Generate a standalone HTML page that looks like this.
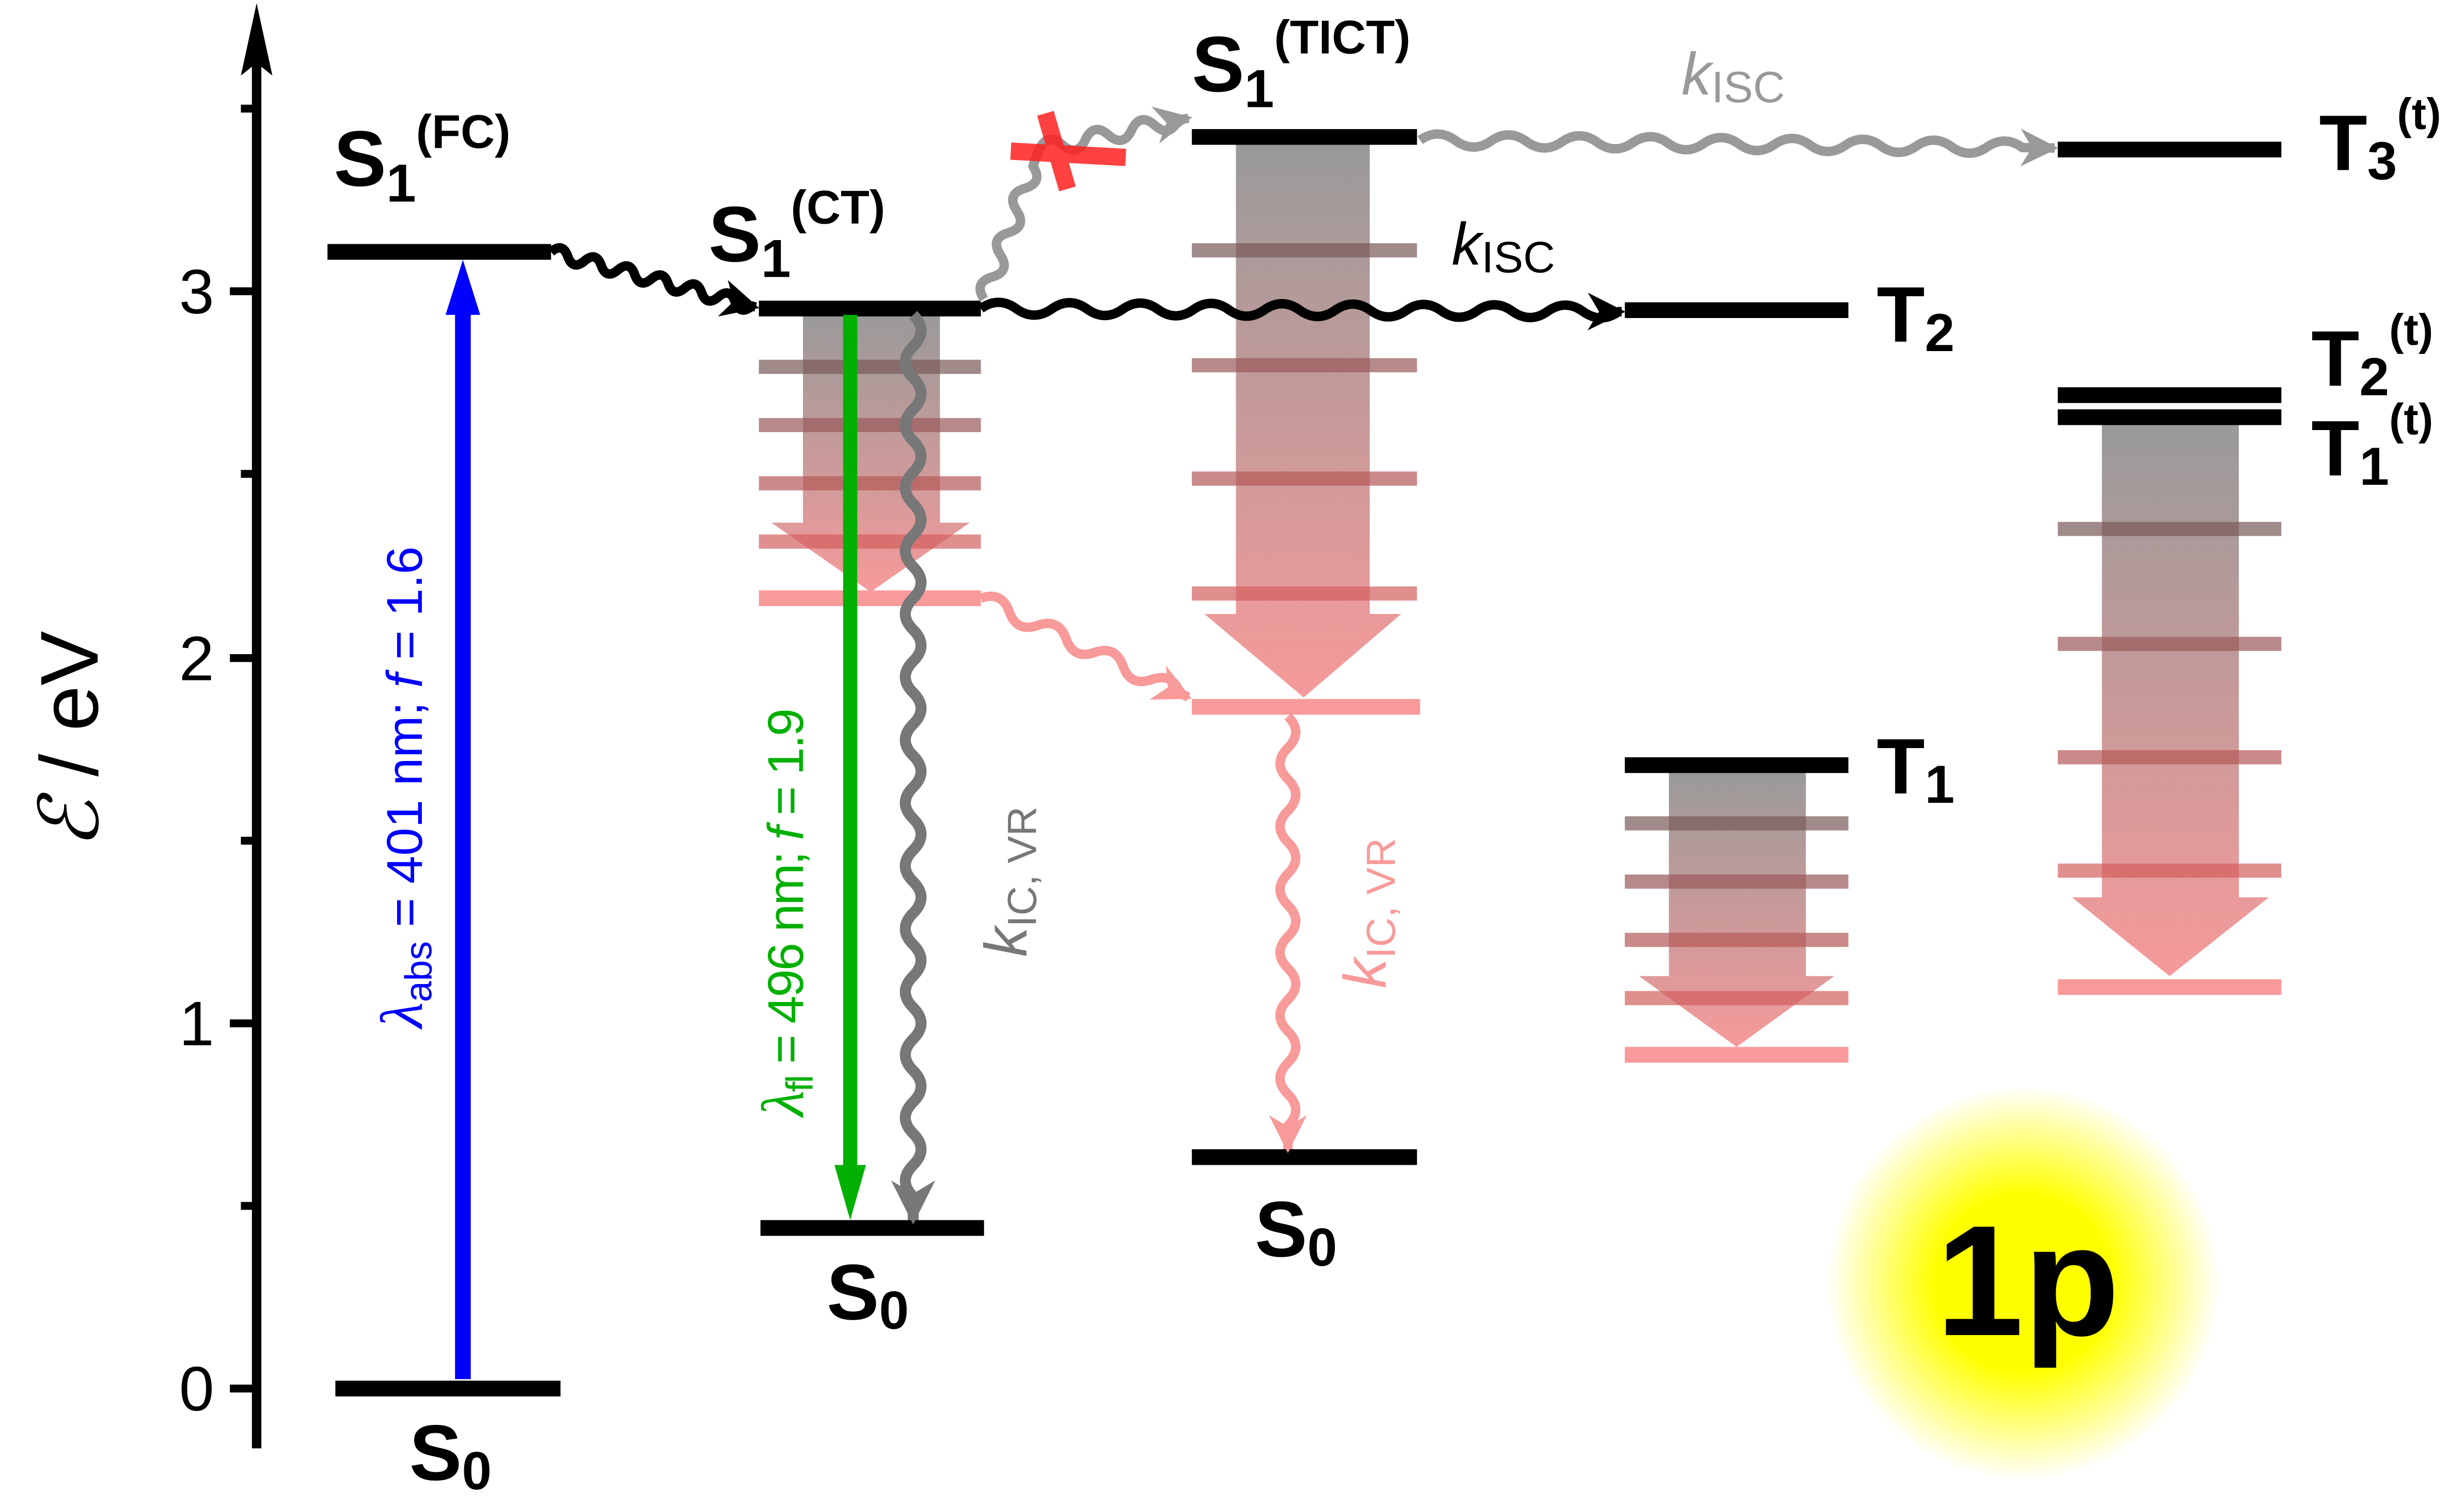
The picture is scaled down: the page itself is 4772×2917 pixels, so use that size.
<!DOCTYPE html>
<html><head><meta charset="utf-8">
<style>
html,body{margin:0;padding:0;background:#fff;}
svg{display:block;}
text{font-family:"Liberation Sans",sans-serif;}
</style></head>
<body>
<svg width="4772" height="2917" viewBox="0 0 1565 956.6" preserveAspectRatio="none" xmlns="http://www.w3.org/2000/svg">
<defs>
<linearGradient id="g1" x1="0" y1="0" x2="0" y2="1">
<stop offset="0" stop-color="#808080" stop-opacity="0.8"/>
<stop offset="1" stop-color="#f48080" stop-opacity="0.8"/>
</linearGradient>
<radialGradient id="glow">
<stop offset="0" stop-color="#ffff00"/>
<stop offset="0.45" stop-color="#ffff00"/>
<stop offset="1" stop-color="#ffff00" stop-opacity="0"/>
</radialGradient>
<marker id="mk" viewBox="0 0 10 10" refX="9" refY="5" markerWidth="4" markerHeight="4" orient="auto" markerUnits="strokeWidth"><path d="M0,0 L10,5 L0,10 L3,5z" fill="#000"/></marker>
<marker id="mg" viewBox="0 0 10 10" refX="9" refY="5" markerWidth="4" markerHeight="4" orient="auto" markerUnits="strokeWidth"><path d="M0,0 L10,5 L0,10 L3,5z" fill="#999"/></marker>
<marker id="mgd" viewBox="0 0 10 10" refX="9" refY="5" markerWidth="4" markerHeight="4" orient="auto" markerUnits="strokeWidth"><path d="M0,0 L10,5 L0,10 L3,5z" fill="#777"/></marker>
<marker id="mp" viewBox="0 0 10 10" refX="9" refY="5" markerWidth="4" markerHeight="4" orient="auto" markerUnits="strokeWidth"><path d="M0,0 L10,5 L0,10 L3,5z" fill="#f89a9a"/></marker>
</defs>

<circle cx="1285" cy="815" r="125" fill="url(#glow)"/>
<text x="1288" y="848" font-size="100" font-weight="bold" text-anchor="middle">1p</text>

<line x1="163" y1="30" x2="163" y2="920" stroke="#000" stroke-width="6"/>
<path d="M163,2 L153,48 L163,40 L173,48z" fill="#000"/>
<g stroke="#000" stroke-width="5">
<line x1="146" y1="185" x2="163" y2="185"/><line x1="146" y1="418" x2="163" y2="418"/>
<line x1="146" y1="650" x2="163" y2="650"/><line x1="146" y1="882" x2="163" y2="882"/>
<line x1="153" y1="301" x2="163" y2="301"/><line x1="153" y1="534" x2="163" y2="534"/>
<line x1="153" y1="766" x2="163" y2="766"/><line x1="153" y1="69" x2="163" y2="69"/>
</g>
<g font-size="40" text-anchor="end">
<text x="136" y="199">3</text><text x="136" y="432">2</text><text x="136" y="664">1</text><text x="136" y="896">0</text>
</g>
<text transform="translate(62,470) rotate(-90)" font-size="52" text-anchor="middle"><tspan font-family="Liberation Serif" font-style="italic">ℰ</tspan> / eV</text>

<g fill="url(#g1)">
<path d="M510,200 H597 V332 H616 L553,376 L490,332 H510z"/>
<path d="M785,92 H870 V390 H890 L828,443 L765,390 H785z"/>
<path d="M1060,490 H1147 V620 H1165 L1103,665 L1041,620 H1060z"/>
<path d="M1335,270 H1422 V570 H1441 L1378,620 L1316,570 H1335z"/>
</g>
<g stroke-width="9" opacity="0.7">
<line x1="482" x2="623" y1="233" y2="233" stroke="#7a5a5a"/>
<line x1="482" x2="623" y1="270" y2="270" stroke="#9a5a5a"/>
<line x1="482" x2="623" y1="307" y2="307" stroke="#b55a5a"/>
<line x1="482" x2="623" y1="344" y2="344" stroke="#d46060"/>
<line x1="757" x2="900" y1="159" y2="159" stroke="#7a5a5a"/>
<line x1="757" x2="900" y1="232" y2="232" stroke="#9a5a5a"/>
<line x1="757" x2="900" y1="304" y2="304" stroke="#b55a5a"/>
<line x1="757" x2="900" y1="377" y2="377" stroke="#d46060"/>
<line x1="1032" x2="1174" y1="523" y2="523" stroke="#7a5a5a"/>
<line x1="1032" x2="1174" y1="560" y2="560" stroke="#9a5a5a"/>
<line x1="1032" x2="1174" y1="597" y2="597" stroke="#b55a5a"/>
<line x1="1032" x2="1174" y1="634" y2="634" stroke="#d46060"/>
<line x1="1307" x2="1449" y1="336" y2="336" stroke="#7a5a5a"/>
<line x1="1307" x2="1449" y1="409" y2="409" stroke="#9a5a5a"/>
<line x1="1307" x2="1449" y1="481" y2="481" stroke="#b55a5a"/>
<line x1="1307" x2="1449" y1="553" y2="553" stroke="#d46060"/>
</g>
<g stroke="#f89a9a" stroke-width="10">
<line x1="482" x2="623" y1="380" y2="380"/>
<line x1="757" x2="902" y1="449" y2="449"/>
<line x1="1032" x2="1174" y1="670" y2="670"/>
<line x1="1307" x2="1449" y1="627" y2="627"/>
</g>

<g stroke="#000" stroke-width="10">
<line x1="208" x2="350" y1="160" y2="160"/>
<line x1="213" x2="356" y1="882" y2="882"/>
<line x1="482" x2="623" y1="196" y2="196"/>
<line x1="483" x2="625" y1="780" y2="780"/>
<line x1="757" x2="900" y1="87" y2="87"/>
<line x1="757" x2="900" y1="735" y2="735"/>
<line x1="1032" x2="1174" y1="197" y2="197"/>
<line x1="1032" x2="1174" y1="486" y2="486"/>
<line x1="1307" x2="1449" y1="95" y2="95"/>
<line x1="1307" x2="1449" y1="251" y2="251"/>
<line x1="1307" x2="1449" y1="265" y2="265"/>
</g>

<line x1="294" y1="876" x2="294" y2="195" stroke="#0000ff" stroke-width="10"/>
<path d="M294,165 L283,200 L305,200z" fill="#0000ff"/>
<line x1="540" y1="200" x2="540" y2="745" stroke="#00b000" stroke-width="9"/>
<path d="M540,775 L530,740 L550,740z" fill="#00b000"/>

<g fill="none" stroke-linejoin="round">
<g transform="translate(350,160) rotate(15.1)"><path stroke="#000" stroke-width="6" marker-end="url(#mk)" d="M0,0 q5.5,-8 11,0 t11,0 t11,0 t11,0 t11,0 t11,0 t11,0 t11,0 t11,0 t11,0 t11,0 t11,0 L134.6,0"/></g>
<g transform="translate(623,196) rotate(0.28)"><path stroke="#000" stroke-width="6" marker-end="url(#mk)" d="M0,0 q11.25,-8 22.5,0 t22.5,0 t22.5,0 t22.5,0 t22.5,0 t22.5,0 t22.5,0 t22.5,0 t22.5,0 t22.5,0 t22.5,0 t22.5,0 t22.5,0 t22.5,0 t22.5,0 t22.5,0 t22.5,0 t22.5,0 L407,0"/></g>
<g transform="translate(902,89) rotate(0.71)"><path stroke="#999" stroke-width="6" marker-end="url(#mg)" d="M0,0 q11.25,-8 22.5,0 t22.5,0 t22.5,0 t22.5,0 t22.5,0 t22.5,0 t22.5,0 t22.5,0 t22.5,0 t22.5,0 t22.5,0 t22.5,0 t22.5,0 t22.5,0 t22.5,0 t22.5,0 t22.5,0 L403,0"/></g>
<g transform="translate(580,200) rotate(90)"><path stroke="#777" stroke-width="7" marker-end="url(#mgd)" d="M0,0 q10,-10 20,0 t20,0 t20,0 t20,0 t20,0 t20,0 t20,0 t20,0 t20,0 t20,0 t20,0 t20,0 t20,0 t20,0 t20,0 t20,0 t20,0 t20,0 t20,0 t20,0 t20,0 t20,0 t20,0 t20,0 t20,0 t20,0 t20,0 t20,0 L575,0"/></g>
<g transform="translate(623,380) rotate(25.5)"><path stroke="#f89a9a" stroke-width="6" marker-end="url(#mp)" d="M0,0 q10,-10 20,0 t20,0 t20,0 t20,0 t20,0 t20,0 t20,0 L146,0"/></g>
<g transform="translate(818,455) rotate(90)"><path stroke="#f89a9a" stroke-width="6" marker-end="url(#mp)" d="M0,0 q10,-10 20,0 t20,0 t20,0 t20,0 t20,0 t20,0 t20,0 t20,0 t20,0 t20,0 t20,0 t20,0 t20,0 L275,0"/></g>
<g transform="translate(625,190) rotate(-69.8)"><path stroke="#999" stroke-width="6" d="M0,0 q7.5,-10 15,0 t15,0 t15,0 t15,0 t15,0 t15,0 L101,0"/></g>
<g transform="translate(660,95) rotate(-11.9)"><path stroke="#999" stroke-width="6" marker-end="url(#mg)" d="M0,0 q7.5,-10 15,0 t15,0 t15,0 t15,0 t15,0 t15,0 L97,0"/></g>
</g>

<g stroke="#ff2020" stroke-width="11" opacity="0.85">
<line x1="642" y1="96" x2="715" y2="100"/>
<line x1="664" y1="72" x2="678" y2="120"/>
</g>

<g font-weight="bold" font-size="50">
<text x="212" y="118">S<tspan font-size="34" dy="10">1</tspan><tspan font-size="30" dy="-34">(FC)</tspan></text>
<text x="450" y="166">S<tspan font-size="34" dy="10">1</tspan><tspan font-size="30" dy="-34">(CT)</tspan></text>
<text x="757" y="58">S<tspan font-size="34" dy="10">1</tspan><tspan font-size="30" dy="-34">(TICT)</tspan></text>
<text x="260" y="940">S<tspan font-size="34" dy="6">0</tspan></text>
<text x="525" y="838">S<tspan font-size="34" dy="6">0</tspan></text>
<text x="797" y="798">S<tspan font-size="34" dy="6">0</tspan></text>
<text x="1192" y="217">T<tspan font-size="34" dy="6">2</tspan></text>
<text x="1192" y="504">T<tspan font-size="34" dy="6">1</tspan></text>
<text x="1473" y="108">T<tspan font-size="34" dy="6">3</tspan><tspan font-size="28" dy="-32">(t)</tspan></text>
<text x="1468" y="245">T<tspan font-size="34" dy="6">2</tspan><tspan font-size="28" dy="-32">(t)</tspan></text>
<text x="1468" y="302">T<tspan font-size="34" dy="6">1</tspan><tspan font-size="28" dy="-32">(t)</tspan></text>
</g>
<text x="922" y="168" font-size="38" font-style="italic">k<tspan font-style="normal" font-size="28" dy="5">ISC</tspan></text>
<text x="1068" y="60" font-size="38" font-style="italic" fill="#999">k<tspan font-style="normal" font-size="28" dy="5">ISC</tspan></text>
<text transform="translate(268,500) rotate(-90)" font-size="32" fill="#0000ff" text-anchor="middle"><tspan font-family="Liberation Serif" font-style="italic" font-size="38">λ</tspan><tspan font-size="24" dy="6">abs</tspan><tspan dy="-6"> = 401 nm; </tspan><tspan font-style="italic">f</tspan> = 1.6</text>
<text transform="translate(510,580) rotate(-90)" font-size="32" fill="#00b000" text-anchor="middle" letter-spacing="-1"><tspan font-family="Liberation Serif" font-style="italic" font-size="38">λ</tspan><tspan font-size="24" dy="6">fl</tspan><tspan dy="-6"> = 496 nm; </tspan><tspan font-style="italic">f</tspan> = 1.9</text>
<text transform="translate(652,560) rotate(-90)" font-size="38" fill="#777" text-anchor="middle"><tspan font-style="italic">k</tspan><tspan font-size="26" dy="6">IC, VR</tspan></text>
<text transform="translate(880,580) rotate(-90)" font-size="38" fill="#f89a9a" text-anchor="middle"><tspan font-style="italic">k</tspan><tspan font-size="26" dy="6">IC, VR</tspan></text>
</svg>
</body></html>
